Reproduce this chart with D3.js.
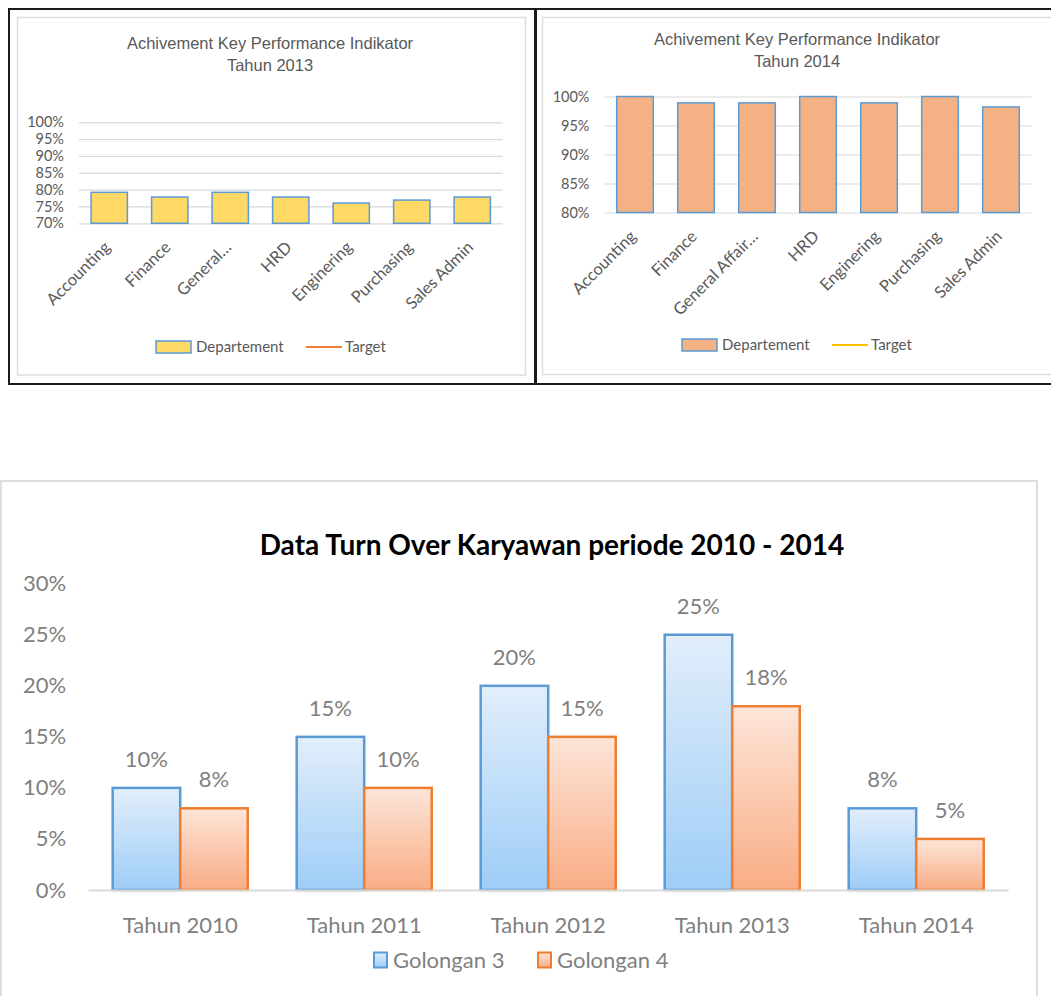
<!DOCTYPE html>
<html>
<head>
<meta charset="utf-8">
<script src="https://cdn.jsdelivr.net/npm/d3@7"></script>
<style>
  html, body { margin: 0; padding: 0; background: #fff; }
  svg { display: block; }
</style>
</head>
<body>
<svg id="chart" width="1051" height="996"></svg>
<script>
// KPI 2013
const departments2013 = ['Accounting', 'Finance', 'General…', 'HRD', 'Enginering', 'Purchasing', 'Sales Admin'];
const achievement2013 = [0.792, 0.778, 0.792, 0.778, 0.760, 0.769, 0.778];
const target2013 = [1, 1, 1, 1, 1, 1, 1];
const yTicks2013 = [0.70, 0.75, 0.80, 0.85, 0.90, 0.95, 1.00];

// KPI 2014
const departments2014 = ['Accounting', 'Finance', 'General Affair…', 'HRD', 'Enginering', 'Purchasing', 'Sales Admin'];
const achievement2014 = [1.000, 0.989, 0.989, 1.000, 0.989, 1.000, 0.982];
const target2014 = [1, 1, 1, 1, 1, 1, 1];
const yTicks2014 = [0.80, 0.85, 0.90, 0.95, 1.00];

// turn over
const years = ['Tahun 2010', 'Tahun 2011', 'Tahun 2012', 'Tahun 2013', 'Tahun 2014'];
const golongan3 = [0.10, 0.15, 0.20, 0.25, 0.08];
const golongan4 = [0.08, 0.10, 0.15, 0.18, 0.05];
const yTicksTurnover = [0, 0.05, 0.10, 0.15, 0.20, 0.25, 0.30];

const pct = d3.format('.0%');
const svg = d3.select('#chart');
const defs = svg.append('defs');

function addGradient(id, top, bottom) {
  const g = defs.append('linearGradient').attr('id', id)
    .attr('x1', 0).attr('y1', 0).attr('x2', 0).attr('y2', 1);
  g.append('stop').attr('offset', '0%').attr('stop-color', top);
  g.append('stop').attr('offset', '100%').attr('stop-color', bottom);
}
addGradient('grad-blue', '#E2EEFB', '#9ECDF7');
addGradient('grad-orange', '#FDE5D9', '#F9AD85');

defs.append('filter').attr('id', 'shadow')
  .attr('x', '-5%').attr('y', '-200%').attr('width', '110%').attr('height', '500%')
  .append('feDropShadow')
  .attr('dx', 0).attr('dy', 1.5).attr('stdDeviation', 1)
  .attr('flood-color', '#000').attr('flood-opacity', 0.3);

// frames of the two top panels
svg.append('rect').attr('x', 9).attr('y', 9).attr('width', 526).attr('height', 375)
  .attr('fill', 'none').attr('stroke', '#1a1a1a').attr('stroke-width', 2);
svg.append('rect').attr('x', 536).attr('y', 9).attr('width', 600).attr('height', 375)
  .attr('fill', 'none').attr('stroke', '#1a1a1a').attr('stroke-width', 2);
svg.append('rect').attr('x', 17.5).attr('y', 17.5).attr('width', 508).attr('height', 357.5)
  .attr('fill', 'none').attr('stroke', '#DDDDDD').attr('stroke-width', 1.5);
svg.append('rect').attr('x', 542.5).attr('y', 17.5).attr('width', 560).attr('height', 357)
  .attr('fill', 'none').attr('stroke', '#DDDDDD').attr('stroke-width', 1.5);

function drawKpi(cfg) {
  const g = svg.append('g');
  const x = d3.scaleBand().domain(cfg.categories).range([cfg.left, cfg.right])
    .paddingInner(0.4).paddingOuter(0.2);
  const y = d3.scaleLinear().domain(cfg.domain).range([cfg.bottom, cfg.top]);

  // title
  const title = g.append('text')
    .attr('x', cfg.titleX).attr('text-anchor', 'middle')
    .attr('font-family', '"Liberation Sans", Arial, sans-serif')
    .attr('font-size', 16.5).attr('fill', '#595959');
  title.append('tspan').attr('x', cfg.titleX).attr('y', cfg.titleY)
    .text('Achivement Key Performance Indikator');
  title.append('tspan').attr('x', cfg.titleX).attr('y', cfg.titleY + 21.5)
    .text('Tahun ' + cfg.year);

  // y axis + gridlines
  const yAxis = g.append('g').attr('transform', `translate(${cfg.left},0)`)
    .call(d3.axisLeft(y).tickValues(cfg.ticks).tickFormat(pct)
      .tickSize(-(cfg.right - cfg.left)).tickPadding(15));
  yAxis.select('.domain').remove();
  yAxis.selectAll('line').attr('stroke', '#D9D9D9').attr('stroke-width', 1.2);
  yAxis.selectAll('text').attr('fill', '#595959')
    .attr('font-family', 'Lato, sans-serif').attr('font-size', 14.5);

  // bars
  g.append('g').selectAll('rect').data(cfg.values).join('rect')
    .attr('x', (d, i) => x(cfg.categories[i]))
    .attr('y', d => y(d))
    .attr('width', x.bandwidth())
    .attr('height', d => cfg.bottom - y(d))
    .attr('fill', cfg.barColor)
    .attr('stroke', '#5B9BD5').attr('stroke-width', 1.5);

  // target line
  const line = d3.line()
    .x((d, i) => x(cfg.categories[i]) + x.bandwidth() / 2)
    .y(d => y(d));
  g.append('path').datum(cfg.targets)
    .attr('d', line).attr('fill', 'none')
    .attr('stroke', cfg.targetColor).attr('stroke-width', 2.2)
    .attr('filter', 'url(#shadow)');

  // category labels
  g.append('g').selectAll('text').data(cfg.categories).join('text')
    .attr('transform', d => `translate(${x(d) + x.bandwidth() / 2 + 2},${cfg.bottom + 25}) rotate(-45)`)
    .attr('text-anchor', 'end')
    .attr('font-family', 'Lato, sans-serif').attr('font-size', 16.5)
    .attr('fill', '#595959')
    .text(d => d);

  // legend
  const lg = g.append('g').attr('transform', `translate(${cfg.legendX},${cfg.legendY})`);
  lg.append('rect').attr('x', 0).attr('y', -6).attr('width', 35).attr('height', 12)
    .attr('fill', cfg.barColor).attr('stroke', '#5B9BD5').attr('stroke-width', 1.5);
  lg.append('text').attr('x', 40).attr('y', 5)
    .attr('font-family', 'Lato, sans-serif').attr('font-size', 15).attr('fill', '#595959')
    .text('Departement');
  lg.append('line').attr('x1', 150).attr('x2', 186).attr('y1', 0).attr('y2', 0)
    .attr('stroke', cfg.targetColor).attr('stroke-width', 2.2);
  lg.append('text').attr('x', 189).attr('y', 5)
    .attr('font-family', 'Lato, sans-serif').attr('font-size', 15).attr('fill', '#595959')
    .text('Target');
}

drawKpi({
  categories: departments2013, values: achievement2013, targets: target2013,
  ticks: yTicks2013, domain: [0.70, 1.00], year: 2013,
  left: 79, right: 502.5, top: 122.3, bottom: 223.3,
  barColor: '#FFD966', targetColor: '#ED7D31',
  titleX: 270, titleY: 49, legendX: 156, legendY: 347
});

drawKpi({
  categories: departments2014, values: achievement2014, targets: target2014,
  ticks: yTicks2014, domain: [0.80, 1.00], year: 2014,
  left: 604.5, right: 1031.5, top: 96.5, bottom: 212.5,
  barColor: '#F4B183', targetColor: '#FFC000',
  titleX: 797, titleY: 45, legendX: 682, legendY: 345
});

// --- turn over chart ---
svg.append('rect').attr('x', 1).attr('y', 481).attr('width', 1036).attr('height', 540)
  .attr('fill', 'none').attr('stroke', '#DDDDDD').attr('stroke-width', 2);

const tg = svg.append('g');
const plot = { left: 88.2, right: 1008.2, top: 583.7, bottom: 890 };

const x0 = d3.scaleBand().domain(years).range([plot.left, plot.right])
  .paddingInner(0.266).paddingOuter(0.133);
const series = [
  { name: 'Golongan 3', values: golongan3, fill: 'url(#grad-blue)', stroke: '#5B9BD5' },
  { name: 'Golongan 4', values: golongan4, fill: 'url(#grad-orange)', stroke: '#ED7D31' }
];
const x1 = d3.scaleBand().domain(series.map(s => s.name)).range([0, x0.bandwidth()]);
const yT = d3.scaleLinear().domain([0, 0.30]).range([plot.bottom, plot.top]);

tg.append('text').attr('x', 552).attr('y', 555).attr('text-anchor', 'middle')
  .attr('font-family', 'Lato, sans-serif').attr('font-weight', 'bold')
  .attr('font-size', 28).attr('fill', '#000')
  .text('Data Turn Over Karyawan periode 2010 - 2014');

const yAxisT = tg.append('g').attr('transform', `translate(${plot.left},0)`)
  .call(d3.axisLeft(yT).tickValues(yTicksTurnover).tickFormat(pct).tickSize(0).tickPadding(22));
yAxisT.select('.domain').remove();
yAxisT.selectAll('text').attr('fill', '#808080')
  .attr('font-family', 'Lato, sans-serif').attr('font-size', 22);

series.forEach(s => {
  const sg = tg.append('g');
  sg.selectAll('rect').data(s.values).join('rect')
    .attr('x', (d, i) => x0(years[i]) + x1(s.name))
    .attr('y', d => yT(d))
    .attr('width', x1.bandwidth())
    .attr('height', d => plot.bottom - yT(d))
    .attr('fill', s.fill).attr('stroke', s.stroke).attr('stroke-width', 2.5);
  sg.selectAll('text').data(s.values).join('text')
    .attr('x', (d, i) => x0(years[i]) + x1(s.name) + x1.bandwidth() / 2)
    .attr('y', d => yT(d) - 21)
    .attr('text-anchor', 'middle')
    .attr('font-family', 'Lato, sans-serif').attr('font-size', 22).attr('fill', '#808080')
    .text(d => pct(d));
});

const xAxisT = tg.append('g').attr('transform', `translate(0,${plot.bottom})`)
  .call(d3.axisBottom(x0).tickSize(0).tickPadding(27));
xAxisT.select('.domain').attr('stroke', '#D9D9D9').attr('stroke-width', 2);
xAxisT.selectAll('text').attr('fill', '#808080')
  .attr('font-family', 'Lato, sans-serif').attr('font-size', 22);

// legend
const legendPos = [374, 538];
series.forEach((s, i) => {
  const lg = tg.append('g').attr('transform', `translate(${legendPos[i]},960)`);
  lg.append('rect').attr('x', 0).attr('y', -7.5).attr('width', 13).attr('height', 15)
    .attr('fill', s.fill).attr('stroke', s.stroke).attr('stroke-width', 2);
  lg.append('text').attr('x', 19).attr('y', 8)
    .attr('font-family', 'Lato, sans-serif').attr('font-size', 22).attr('fill', '#808080')
    .text(s.name);
});
</script>
</body>
</html>
